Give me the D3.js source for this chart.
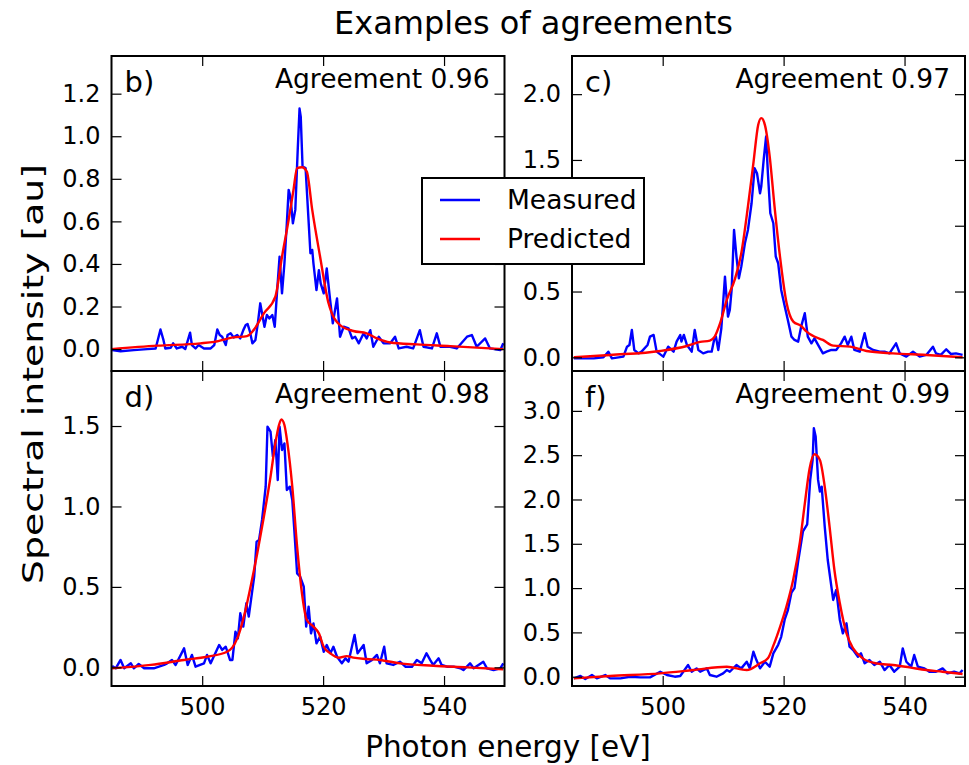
<!DOCTYPE html>
<html>
<head>
<meta charset="utf-8">
<script src="https://cdn.jsdelivr.net/npm/d3@7"></script>
<style>
  body { margin: 0; background: #fff; }
  svg { display: block; font-family: "DejaVu Sans", sans-serif; }
</style>
</head>
<body>
<svg id="chart" width="969" height="765"></svg>
<script>
// ---- data ---------------------------------------------------------------
const energyDomain = [485, 550];
const energyTicks = [500, 520, 540];
const panelLabels = ["b)", "c)", "d)", "f)"];
const agreementScores = ["0.96", "0.97", "0.98", "0.99"];
const intensityDomains = [[-0.103, 1.377], [-0.104, 2.29], [-0.116, 1.842], [-0.105, 3.45]];
const intensityTicksB = [0, 0.2, 0.4, 0.6, 0.8, 1.0, 1.2];
const intensityTicksC = [0, 0.5, 1.0, 1.5, 2.0];
const intensityTicksD = [0, 0.5, 1.0, 1.5];
const intensityTicksF = [0, 0.5, 1.0, 1.5, 2.0, 2.5, 3.0];
const seriesNames = ["Measured", "Predicted"];
const seriesColors = ["#0000ff", "#ff0000"];

// [photon energy (eV), intensity (au)]
const measuredB = [[485.1,-0.005],[486.5,-0.01],[488.7,-0.005],[490.9,0.0],[492.3,0.003],[493.1,0.092],[493.6,0.042],[493.9,0.003],[494.8,0.006],[495.2,0.027],[495.8,0.003],[496.7,0.011],[497.2,0.0],[498.0,0.077],[498.3,0.019],[498.9,0.003],[499.4,0.019],[500.3,0.003],[501.4,0.003],[502.0,0.019],[502.5,0.092],[502.9,0.066],[503.3,0.058],[503.9,0.019],[504.2,0.066],[504.7,0.074],[505.2,0.055],[505.8,0.066],[506.3,0.05],[506.8,0.089],[507.2,0.113],[507.5,0.118],[507.9,0.082],[508.3,0.027],[508.8,0.042],[509.2,0.121],[509.6,0.215],[510.0,0.152],[510.3,0.105],[510.7,0.16],[511.1,0.144],[511.6,0.16],[512.0,0.105],[512.4,0.277],[512.8,0.434],[513.2,0.262],[513.6,0.403],[514.0,0.591],[514.3,0.748],[514.6,0.716],[515.0,0.591],[515.4,0.654],[515.8,0.936],[516.1,1.13],[516.3,1.092],[516.6,0.857],[517.1,0.85],[517.4,0.70],[517.9,0.45],[518.2,0.466],[518.4,0.403],[518.9,0.277],[519.3,0.371],[519.6,0.309],[520.1,0.262],[520.6,0.379],[521.1,0.246],[521.6,0.121],[522.3,0.238],[522.8,0.058],[523.4,0.105],[524.2,0.097],[524.8,0.05],[525.3,0.058],[525.9,0.027],[526.7,0.074],[527.2,0.05],[527.8,0.089],[528.3,0.011],[529.2,0.058],[530.0,0.027],[531.1,0.027],[531.9,0.058],[532.5,0.003],[533.8,0.011],[534.9,0.003],[536.0,0.089],[536.6,0.011],[538.0,0.003],[538.8,0.074],[539.4,0.011],[541.0,0.011],[542.1,0.003],[543.8,0.058],[544.6,0.066],[545.4,0.011],[546.8,0.05],[547.6,0.003],[549.3,-0.005],[549.8,0.027]];
const predictedB = [[485.0,0.0],[492.6,0.016],[499.7,0.027],[502.0,0.034],[505.2,0.055],[507.4,0.061],[508.5,0.089],[510.2,0.168],[512.1,0.246],[513.2,0.434],[514.3,0.607],[515.1,0.748],[515.7,0.85],[516.5,0.854],[517.3,0.834],[518.2,0.654],[519.5,0.434],[520.9,0.215],[522.8,0.113],[525.0,0.085],[527.2,0.074],[528.9,0.05],[531.1,0.031],[535.5,0.022],[541.0,0.014],[549.8,0.0]];

const measuredC = [[485.3,-0.008],[488.6,-0.008],[490.2,0.0],[491.0,0.043],[491.6,-0.008],[493.5,0.005],[494.1,0.081],[494.5,0.094],[494.9,0.208],[495.3,0.056],[496.0,0.03],[496.5,0.043],[497.5,0.094],[497.9,0.157],[498.5,0.17],[499.0,0.043],[500.1,0.005],[500.9,0.081],[501.8,0.043],[502.3,0.119],[502.9,0.17],[503.1,0.119],[503.5,0.17],[504.0,0.094],[504.8,0.043],[505.3,0.208],[505.9,0.056],[506.7,0.03],[507.5,0.043],[508.1,0.043],[508.5,0.132],[508.8,0.157],[509.2,0.056],[509.7,0.221],[510.3,0.613],[510.8,0.309],[511.1,0.36],[511.4,0.512],[511.8,0.968],[512.2,0.766],[512.6,0.60],[513.0,0.69],[513.6,0.867],[514.1,0.968],[514.7,1.171],[515.2,1.437],[515.6,1.399],[516.1,1.247],[516.3,1.298],[516.7,1.501],[517.1,1.678],[517.4,1.399],[517.8,1.095],[518.3,1.019],[518.7,0.766],[519.1,0.715],[519.6,0.512],[520.2,0.385],[520.7,0.284],[521.3,0.157],[521.8,0.132],[522.4,0.119],[522.9,0.233],[523.5,0.335],[524.0,0.157],[524.6,0.106],[525.1,0.144],[525.7,0.094],[526.5,0.03],[527.1,0.043],[527.9,0.056],[528.7,0.056],[529.5,0.106],[530.1,0.157],[530.6,0.094],[531.2,0.157],[531.7,0.056],[532.6,0.043],[533.4,0.183],[533.9,0.081],[534.8,0.056],[535.9,0.043],[536.7,0.043],[537.5,0.03],[538.6,0.106],[539.2,0.03],[540.3,0.005],[541.4,0.043],[542.5,0.005],[543.6,0.018],[544.7,0.081],[545.2,0.03],[546.0,0.018],[546.9,0.061],[547.7,0.025],[548.5,0.03],[549.6,0.018]];
const predictedC = [[485.3,0.0],[491.3,0.018],[499.6,0.048],[504.0,0.086],[506.2,0.117],[507.8,0.127],[508.6,0.157],[509.5,0.259],[510.6,0.436],[511.9,0.588],[513.0,0.791],[514.1,1.146],[515.0,1.475],[515.8,1.767],[516.3,1.818],[516.9,1.767],[517.7,1.526],[518.5,1.146],[519.4,0.766],[520.5,0.411],[521.6,0.271],[522.9,0.238],[523.8,0.195],[524.9,0.162],[526.5,0.132],[528.2,0.089],[531.0,0.081],[533.7,0.048],[538.1,0.03],[543.6,0.018],[549.6,0.0]];

const measuredD = [[485.1,0.008],[485.7,-0.006],[486.5,0.046],[487.1,-0.006],[488.2,0.025],[488.7,-0.006],[489.5,0.021],[490.4,-0.006],[492.0,-0.006],[493.7,0.015],[494.2,0.025],[495.0,0.046],[495.6,0.015],[497.0,0.118],[497.6,0.015],[498.3,0.077],[498.9,0.004],[500.3,0.025],[500.8,0.077],[501.4,0.025],[502.8,0.139],[503.3,0.108],[503.9,0.128],[504.6,0.046],[505.0,0.046],[505.5,0.222],[505.9,0.18],[506.3,0.336],[506.8,0.253],[507.3,0.398],[507.7,0.315],[508.3,0.481],[508.6,0.564],[509.0,0.781],[509.4,0.791],[509.9,0.916],[510.5,1.123],[510.8,1.496],[511.3,1.465],[511.7,1.309],[512.1,1.413],[512.5,1.164],[512.8,1.496],[513.2,1.351],[513.6,1.392],[514.0,1.102],[514.5,1.123],[514.9,1.04],[515.2,0.874],[515.7,0.584],[516.2,0.564],[516.8,0.501],[517.2,0.253],[517.6,0.377],[518.0,0.211],[518.4,0.273],[518.9,0.149],[519.5,0.191],[520.1,0.097],[520.6,0.139],[521.2,0.087],[521.7,0.128],[522.3,0.066],[523.1,0.025],[523.7,0.056],[524.2,0.035],[525.2,0.201],[525.7,0.087],[526.7,0.139],[527.2,0.025],[528.1,0.046],[528.9,0.077],[529.4,0.025],[530.1,0.128],[530.5,0.025],[531.6,0.015],[532.7,0.035],[533.6,0.004],[534.7,0.004],[535.5,0.046],[536.3,0.025],[537.1,0.087],[537.7,0.046],[538.2,0.015],[539.1,0.056],[539.6,0.015],[540.5,0.004],[541.6,0.004],[542.7,-0.006],[543.2,-0.017],[544.3,0.025],[544.9,-0.006],[546.5,0.035],[547.1,-0.006],[548.2,-0.017],[549.3,-0.006],[549.8,0.025]];
const predictedD = [[485.1,-0.006],[491.5,0.015],[497.0,0.046],[500.8,0.066],[504.1,0.097],[505.0,0.124],[505.8,0.18],[506.9,0.315],[508.0,0.501],[509.1,0.708],[510.2,0.936],[511.3,1.185],[512.1,1.392],[512.7,1.506],[513.1,1.541],[513.6,1.506],[514.1,1.392],[514.9,1.123],[515.7,0.75],[516.5,0.46],[517.3,0.294],[518.4,0.253],[519.3,0.211],[520.1,0.128],[521.2,0.087],[522.6,0.06],[523.9,0.07],[525.0,0.06],[527.2,0.052],[529.4,0.046],[532.7,0.025],[538.2,0.01],[543.8,0.0],[549.8,-0.012]];

const measuredF = [[485.3,-0.019],[486.4,0.008],[487.2,-0.026],[488.3,0.019],[489.1,-0.019],[490.5,0.019],[491.3,-0.019],[493.0,-0.019],[494.6,0.0],[496.3,-0.008],[497.9,-0.008],[499.6,0.056],[500.7,0.019],[502.0,0.0],[502.9,0.008],[504.2,0.132],[504.8,0.056],[505.6,0.094],[506.2,0.056],[507.3,0.094],[507.8,0.019],[508.9,0.0],[510.0,0.038],[510.6,0.075],[511.1,0.056],[512.2,0.132],[513.0,0.094],[513.9,0.169],[514.4,0.094],[515.0,0.282],[515.5,0.188],[516.1,0.094],[516.9,0.169],[517.7,0.113],[518.3,0.263],[519.1,0.36],[519.6,0.45],[520.2,0.65],[520.7,0.75],[521.3,0.95],[521.8,1.0],[522.4,1.3],[523.2,1.64],[523.9,1.72],[524.4,2.221],[524.8,2.446],[525.0,2.804],[525.3,2.71],[525.7,2.221],[526.0,2.089],[526.3,2.145],[526.8,1.694],[527.3,1.317],[527.9,1.016],[528.2,0.866],[528.7,0.979],[529.3,0.64],[529.8,0.489],[530.4,0.602],[530.9,0.339],[531.5,0.301],[532.3,0.226],[532.8,0.263],[533.4,0.151],[534.2,0.188],[535.0,0.132],[535.9,0.169],[536.7,0.075],[537.5,0.132],[538.3,0.056],[539.2,0.113],[539.7,0.32],[540.3,0.169],[541.1,0.113],[541.6,0.245],[542.2,0.113],[543.3,0.094],[544.1,0.056],[545.2,0.056],[546.3,0.094],[547.1,0.038],[548.2,0.056],[549.1,0.038],[549.6,0.075]];
const predictedF = [[485.3,-0.019],[491.3,0.008],[499.6,0.038],[505.1,0.075],[510.6,0.113],[513.9,0.075],[516.1,0.151],[517.4,0.207],[518.3,0.35],[519.4,0.56],[520.5,0.8],[521.6,1.1],[522.7,1.52],[523.5,1.95],[524.3,2.35],[525.1,2.51],[526.0,2.446],[526.8,2.145],[527.6,1.694],[528.4,1.204],[529.3,0.828],[530.4,0.489],[531.5,0.32],[533.1,0.207],[535.3,0.151],[538.1,0.132],[540.8,0.105],[543.6,0.075],[546.3,0.056],[549.6,0.03]];

// ---- layout -------------------------------------------------------------
const colX = [[111.5, 504.5], [572, 965]];
const rowY = [[56, 371], [371, 686]];
const legendBox = { x: 422, y: 178, w: 222, h: 86 };

const panels = [
  { col: 0, row: 0, label: panelLabels[0], score: agreementScores[0], domain: intensityDomains[0], ticks: intensityTicksB, measured: measuredB, predicted: predictedB },
  { col: 1, row: 0, label: panelLabels[1], score: agreementScores[1], domain: intensityDomains[1], ticks: intensityTicksC, measured: measuredC, predicted: predictedC },
  { col: 0, row: 1, label: panelLabels[2], score: agreementScores[2], domain: intensityDomains[2], ticks: intensityTicksD, measured: measuredD, predicted: predictedD },
  { col: 1, row: 1, label: panelLabels[3], score: agreementScores[3], domain: intensityDomains[3], ticks: intensityTicksF, measured: measuredF, predicted: predictedF }
];

const svg = d3.select("#chart");
svg.append("rect").attr("width", 969).attr("height", 765).attr("fill", "#fff");

const TICK = 10;
const tickFont = 24;

panels.forEach((p, i) => {
  const [x0, x1] = colX[p.col];
  const [y0, y1] = rowY[p.row];
  const w = x1 - x0, h = y1 - y0;

  const x = d3.scaleLinear().domain(energyDomain).range([0, w]);
  const y = d3.scaleLinear().domain(p.domain).range([h, 0]);

  const g = svg.append("g").attr("transform", `translate(${x0},${y0})`);

  const clipId = "clip" + i;
  g.append("clipPath").attr("id", clipId)
    .append("rect").attr("width", w).attr("height", h);

  const plot = g.append("g").attr("clip-path", `url(#${clipId})`);

  const lineLinear = d3.line().x(d => x(d[0])).y(d => y(d[1]));
  const lineSmooth = d3.line().x(d => x(d[0])).y(d => y(d[1])).curve(d3.curveMonotoneX);

  plot.append("path").datum(p.measured)
    .attr("d", lineLinear).attr("fill", "none")
    .attr("stroke", seriesColors[0]).attr("stroke-width", 2.4)
    .attr("stroke-linejoin", "round");
  plot.append("path").datum(p.predicted)
    .attr("d", lineSmooth).attr("fill", "none")
    .attr("stroke", seriesColors[1]).attr("stroke-width", 2.4)
    .attr("stroke-linejoin", "round");

  // inward ticks on all four sides
  const styleAxis = sel => {
    sel.select(".domain").remove();
    sel.selectAll(".tick line").attr("stroke", "#000").attr("stroke-width", 1.2);
    sel.selectAll(".tick text").attr("font-size", tickFont)
      .attr("font-family", "DejaVu Sans").attr("fill", "#000");
  };

  const leftAxis = g.append("g")
    .call(d3.axisLeft(y).tickValues(p.ticks).tickSize(-TICK).tickPadding(11).tickFormat(d3.format(".1f")))
    .call(styleAxis);
  // tick labels lying beneath the legend box are not shown
  leftAxis.selectAll(".tick").each(function (d) {
    const ty = y0 + y(d);
    if (ty > legendBox.y && ty < legendBox.y + legendBox.h && x0 - 11 > legendBox.x) {
      d3.select(this).select("text").remove();
    }
  });
  g.append("g").attr("transform", `translate(${w},0)`)
    .call(d3.axisRight(y).tickValues(p.ticks).tickSize(-TICK).tickFormat(""))
    .call(styleAxis);
  g.append("g")
    .call(d3.axisTop(x).tickValues(energyTicks).tickSize(-TICK).tickFormat(""))
    .call(styleAxis);
  g.append("g").attr("transform", `translate(0,${h})`)
    .call(d3.axisBottom(x).tickValues(energyTicks).tickSize(-TICK).tickPadding(12)
      .tickFormat(p.row === 1 ? d3.format("d") : ""))
    .call(styleAxis);

  // frame
  g.append("rect").attr("width", w).attr("height", h)
    .attr("fill", "none").attr("stroke", "#000").attr("stroke-width", 2);

  // panel annotations
  g.append("text").attr("x", 13).attr("y", 36)
    .attr("font-size", 29).attr("fill", "#000").text(p.label);
  g.append("text").attr("x", w - 15).attr("y", 32)
    .attr("text-anchor", "end").attr("font-size", 26.5).attr("fill", "#000")
    .text("Agreement " + p.score);
});

// title and axis labels
svg.append("text").attr("x", 533.5).attr("y", 34)
  .attr("text-anchor", "middle").attr("font-size", 32).attr("fill", "#000")
  .text("Examples of agreements");
svg.append("text").attr("x", 508).attr("y", 757)
  .attr("text-anchor", "middle").attr("font-size", 29.5).attr("fill", "#000")
  .text("Photon energy [eV]");
svg.append("text").attr("transform", "translate(43,374) rotate(-90)")
  .attr("text-anchor", "middle").attr("font-size", 29).attr("fill", "#000")
  .attr("textLength", 420).attr("lengthAdjust", "spacingAndGlyphs")
  .text("Spectral intensity [au]");

// legend
const legend = svg.append("g").attr("transform", `translate(${legendBox.x},${legendBox.y})`);
legend.append("rect").attr("width", legendBox.w).attr("height", legendBox.h)
  .attr("fill", "#fff").attr("stroke", "#000").attr("stroke-width", 2);
seriesNames.forEach((name, i) => {
  const cy = 22 + i * 39;
  legend.append("line").attr("x1", 18).attr("x2", 58).attr("y1", cy).attr("y2", cy)
    .attr("stroke", seriesColors[i]).attr("stroke-width", 2.4);
  legend.append("text").attr("x", 85).attr("y", cy + 9)
    .attr("font-size", 26.5).attr("fill", "#000").text(name);
});
</script>
</body>
</html>
